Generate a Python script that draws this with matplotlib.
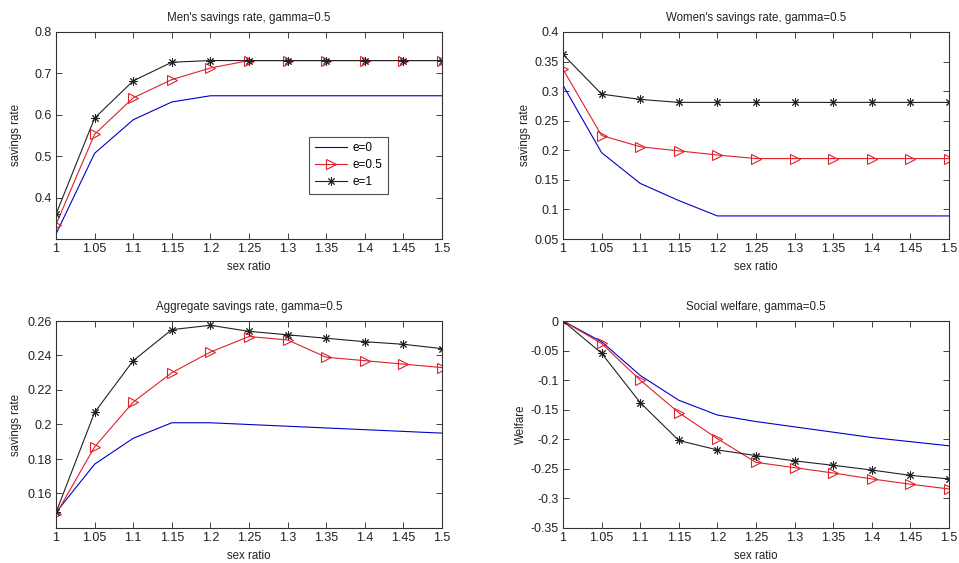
import matplotlib
matplotlib.use('Agg')
import matplotlib.pyplot as plt

plt.rcParams['font.family'] = ['Liberation Sans', 'DejaVu Sans']

sex_ratio = [1.0, 1.05, 1.1, 1.15, 1.2, 1.25, 1.3, 1.35, 1.4, 1.45, 1.5]
x_labels = ['1', '1.05', '1.1', '1.15', '1.2', '1.25', '1.3', '1.35', '1.4', '1.45', '1.5']
series_labels = ['e=0', 'e=0.5', 'e=1']

# Men's savings rate
men_e0 = [0.312, 0.507, 0.588, 0.631, 0.646, 0.646, 0.646, 0.646, 0.646, 0.646, 0.646]
men_e05 = [0.335, 0.553, 0.641, 0.685, 0.713, 0.731, 0.731, 0.731, 0.731, 0.731, 0.731]
men_e1 = [0.360, 0.592, 0.682, 0.727, 0.731, 0.731, 0.731, 0.731, 0.731, 0.731, 0.731]

# Women's savings rate
women_e0 = [0.310, 0.196, 0.144, 0.115, 0.089, 0.089, 0.089, 0.089, 0.089, 0.089, 0.089]
women_e05 = [0.337, 0.225, 0.206, 0.199, 0.192, 0.186, 0.186, 0.186, 0.186, 0.186, 0.186]
women_e1 = [0.362, 0.295, 0.286, 0.281, 0.281, 0.281, 0.281, 0.281, 0.281, 0.281, 0.281]

# Aggregate savings rate
agg_e0 = [0.149, 0.177, 0.192, 0.201, 0.201, 0.200, 0.199, 0.198, 0.197, 0.196, 0.195]
agg_e05 = [0.148, 0.187, 0.213, 0.230, 0.242, 0.251, 0.249, 0.239, 0.237, 0.235, 0.233]
agg_e1 = [0.149, 0.207, 0.237, 0.255, 0.2575, 0.254, 0.252, 0.250, 0.248, 0.2465, 0.244]

# Social welfare
wel_e0 = [0.0, -0.035, -0.092, -0.134, -0.159, -0.170, -0.179, -0.188, -0.197, -0.204, -0.211]
wel_e05 = [0.0, -0.038, -0.100, -0.155, -0.199, -0.239, -0.248, -0.257, -0.267, -0.276, -0.284]
wel_e1 = [0.0, -0.0545, -0.138, -0.202, -0.218, -0.2275, -0.2365, -0.244, -0.252, -0.261, -0.267]

panels = [
    ("Men's savings rate, gamma=0.5", 'savings rate', (men_e0, men_e05, men_e1),
     (0.3, 0.8), [0.4, 0.5, 0.6, 0.7, 0.8], ['0.4', '0.5', '0.6', '0.7', '0.8']),
    ("Women's savings rate, gamma=0.5", 'savings rate', (women_e0, women_e05, women_e1),
     (0.05, 0.4), [0.05, 0.1, 0.15, 0.2, 0.25, 0.3, 0.35, 0.4],
     ['0.05', '0.1', '0.15', '0.2', '0.25', '0.3', '0.35', '0.4']),
    ('Aggregate savings rate, gamma=0.5', 'savings rate', (agg_e0, agg_e05, agg_e1),
     (0.14, 0.26), [0.16, 0.18, 0.2, 0.22, 0.24, 0.26],
     ['0.16', '0.18', '0.2', '0.22', '0.24', '0.26']),
    ('Social welfare, gamma=0.5', 'Welfare', (wel_e0, wel_e05, wel_e1),
     (-0.35, 0.0), [-0.35, -0.3, -0.25, -0.2, -0.15, -0.1, -0.05, 0],
     ['-0.35', '-0.3', '-0.25', '-0.2', '-0.15', '-0.1', '-0.05', '0']),
]

# axes rectangles in figure fractions (left, bottom, width, height)
W, H = 959, 563
rects = [
    (56 / W, 1 - 239 / H, 386 / W, 207 / H),
    (563 / W, 1 - 239 / H, 386 / W, 207 / H),
    (56 / W, 1 - 528 / H, 386 / W, 207 / H),
    (563 / W, 1 - 528 / H, 386 / W, 207 / H),
]
ylabel_x = [-0.087, -0.082, -0.087, -0.094]

# MATLAB-style asterisk: eight spokes
asterisk = (8, 2, 0)

fig = plt.figure(figsize=(W / 100, H / 100), dpi=100)

for i, (title, ylabel, (s0, s05, s1), ylim, yticks, yticklabels) in enumerate(panels):
    ax = fig.add_axes(rects[i])
    ax.plot(sex_ratio, s0, color='#0000cc', lw=0.8, label=series_labels[0])
    ax.plot(sex_ratio, s05, color='#e0202a', lw=0.8, marker='>', markersize=6.5,
            markerfacecolor='none', markeredgewidth=0.8, label=series_labels[1])
    ax.plot(sex_ratio, s1, color='#222222', lw=0.8, marker=asterisk, markersize=6,
            markeredgewidth=0.7, label=series_labels[2])
    ax.set_xlim(1.0, 1.5)
    ax.set_ylim(*ylim)
    ax.set_xticks(sex_ratio)
    ax.set_xticklabels(x_labels)
    ax.set_yticks(yticks)
    ax.set_yticklabels(yticklabels)
    ax.tick_params(direction='in', top=True, right=True, length=4, width=0.6,
                   labelsize=9, colors='#222222', pad=3)
    for sp in ax.spines.values():
        sp.set_linewidth(0.8)
        sp.set_color('#333333')
    ax.set_title(title, fontsize=8.3, color='#222222', pad=8)
    ax.set_xlabel('sex ratio', fontsize=8.3, color='#222222', labelpad=4)
    ax.set_ylabel(ylabel, fontsize=8.3, color='#222222')
    ax.yaxis.set_label_coords(ylabel_x[i], 0.5)
    if i == 0:
        leg = ax.legend(loc='upper left', bbox_to_anchor=(0.655, 0.495),
                        fontsize=8.5, frameon=True, fancybox=False,
                        borderpad=0.5, handlelength=2.7, handletextpad=0.5,
                        labelspacing=0.4, borderaxespad=0)
        leg.get_frame().set_edgecolor('#222222')
        leg.get_frame().set_linewidth(0.8)

fig.savefig('out.png', dpi=100, facecolor='white')
